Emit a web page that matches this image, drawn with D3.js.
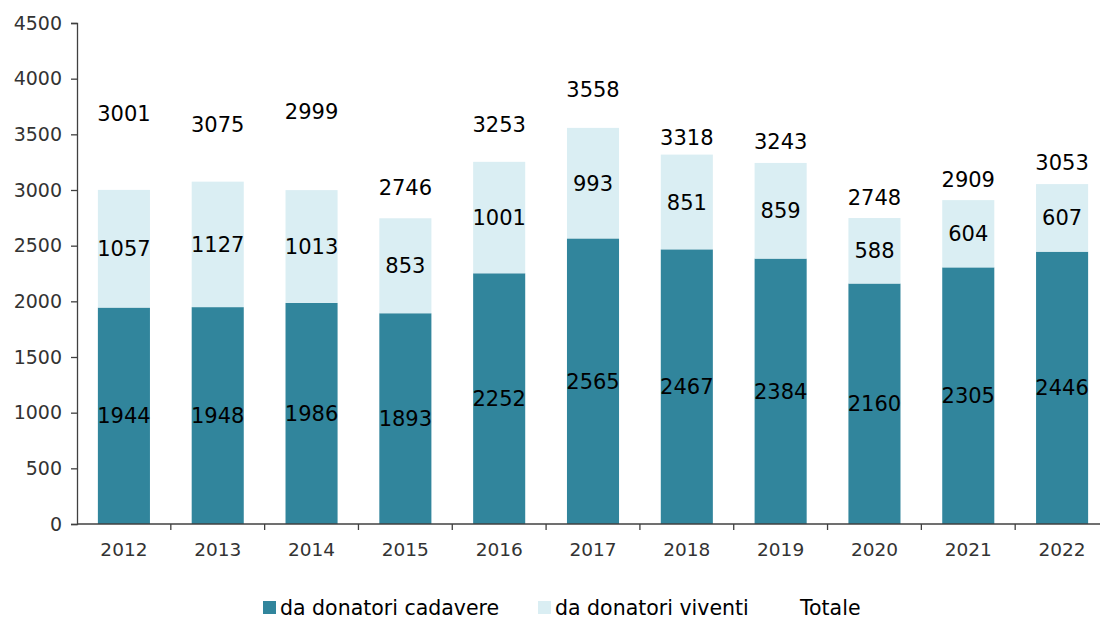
<!DOCTYPE html>
<html>
<head>
<meta charset="utf-8">
<script src="https://cdn.jsdelivr.net/npm/d3@7"></script>
<style>
  body { margin: 0; background: #fff; }
  svg { display: block; font-family: "DejaVu Sans", Verdana, sans-serif; }
</style>
</head>
<body>
<div id="chart"></div>
<script>
const years = ["2012", "2013", "2014", "2015", "2016", "2017", "2018", "2019", "2020", "2021", "2022"];
const cadavere = [1944, 1948, 1986, 1893, 2252, 2565, 2467, 2384, 2160, 2305, 2446];
const viventi = [1057, 1127, 1013, 853, 1001, 993, 851, 859, 588, 604, 607];
const totale = [3001, 3075, 2999, 2746, 3253, 3558, 3318, 3243, 2748, 2909, 3053];
// where the total labels sit, in chart units
const totaleLabelPos = [3692, 3593, 3710, 3027, 3593, 3907, 3476, 3440, 2937, 3099, 3252];
const yTicks = [0, 500, 1000, 1500, 2000, 2500, 3000, 3500, 4000, 4500];
const seriesNames = ["da donatori cadavere", "da donatori viventi", "Totale"];

const WIDTH = 1100;
const HEIGHT = 620;
const margin = { top: 23, right: -9, bottom: 96, left: 77 };

const colorDark = "#31859c";
const colorLight = "#daeef3";
const axisColor = "#404040";

const svg = d3
  .select("#chart")
  .append("svg")
  .attr("width", WIDTH)
  .attr("height", HEIGHT);

const x = d3
  .scaleBand()
  .domain(years)
  .range([margin.left, WIDTH - margin.right])
  .paddingInner(0.445)
  .paddingOuter(0.2225);

const y = d3
  .scaleLinear()
  .domain([0, 4500])
  .range([HEIGHT - margin.bottom, margin.top]);

const rows = years.map((yr, i) => ({ year: yr, cadavere: cadavere[i], viventi: viventi[i] }));
const stack = d3.stack().keys(["cadavere", "viventi"])(rows);
const fills = { cadavere: colorDark, viventi: colorLight };

//Bars
svg
  .selectAll("g.layer")
  .data(stack)
  .enter()
  .append("g")
  .attr("class", "layer")
  .attr("fill", (d) => fills[d.key])
  .selectAll("rect")
  .data((d) => d)
  .enter()
  .append("rect")
  .attr("x", (d) => x(d.data.year))
  .attr("width", x.bandwidth())
  .attr("y", (d) => y(d[1]))
  .attr("height", (d) => y(d[0]) - y(d[1]));

//Segment labels
stack.forEach((layer) => {
  svg
    .append("g")
    .selectAll("text")
    .data(layer)
    .enter()
    .append("text")
    .attr("x", (d) => x(d.data.year) + x.bandwidth() / 2)
    .attr("y", (d) => y((d[0] + d[1]) / 2))
    .attr("dy", "0.36em")
    .attr("text-anchor", "middle")
    .style("font-size", "21px")
    .style("fill", "#000")
    .text((d) => d.data[layer.key]);
});

//Total labels
svg
  .append("g")
  .selectAll("text")
  .data(totale)
  .enter()
  .append("text")
  .attr("x", (d, i) => x(years[i]) + x.bandwidth() / 2)
  .attr("y", (d, i) => y(totaleLabelPos[i]))
  .attr("dy", "0.36em")
  .attr("text-anchor", "middle")
  .style("font-size", "21px")
  .style("fill", "#000")
  .text((d) => d);

//Y axis
const yAxis = svg
  .append("g")
  .attr("transform", "translate(" + margin.left + ",0)")
  .call(d3.axisLeft(y).tickValues(yTicks).tickSize(6).tickPadding(9).tickFormat(d3.format("d")));
yAxis.selectAll("path, line").attr("stroke", axisColor).attr("stroke-width", 1.3);
yAxis.selectAll("text").style("font-size", "19px").style("fill", "#333").style("font-family", "DejaVu Sans, sans-serif");

//X axis (ticks between categories)
const xAxisY = y(0);
const xg = svg.append("g");
xg.append("line")
  .attr("x1", margin.left)
  .attr("x2", WIDTH)
  .attr("y1", xAxisY)
  .attr("y2", xAxisY)
  .attr("stroke", axisColor)
  .attr("stroke-width", 1.3);
xg.selectAll("line.tick")
  .data(years)
  .enter()
  .append("line")
  .attr("class", "tick")
  .attr("x1", (d) => x(d) + x.bandwidth() + (x.step() - x.bandwidth()) / 2)
  .attr("x2", (d) => x(d) + x.bandwidth() + (x.step() - x.bandwidth()) / 2)
  .attr("y1", xAxisY)
  .attr("y2", xAxisY + 6)
  .attr("stroke", axisColor)
  .attr("stroke-width", 1.3);
xg.selectAll("text")
  .data(years)
  .enter()
  .append("text")
  .attr("x", (d) => x(d) + x.bandwidth() / 2)
  .attr("y", xAxisY + 25)
  .attr("dy", "0.36em")
  .attr("text-anchor", "middle")
  .style("font-size", "18.5px")
  .style("fill", "#333")
  .text((d) => d);

//Legend
const legendItems = [
  { name: seriesNames[0], color: colorDark, x: 263 },
  { name: seriesNames[1], color: colorLight, x: 538 },
  { name: seriesNames[2], color: "none", x: 783 },
];
const legend = svg.append("g").attr("transform", "translate(0,608)");
legend
  .selectAll("rect")
  .data(legendItems)
  .enter()
  .append("rect")
  .attr("x", (d) => d.x)
  .attr("y", -7)
  .attr("width", 13)
  .attr("height", 13)
  .attr("fill", (d) => d.color);
legend
  .selectAll("text")
  .data(legendItems)
  .enter()
  .append("text")
  .attr("x", (d) => d.x + 17)
  .attr("y", 0)
  .attr("dy", "0.36em")
  .style("font-size", "20.5px")
  .style("fill", "#000")
  .text((d) => d.name);
</script>
</body>
</html>
